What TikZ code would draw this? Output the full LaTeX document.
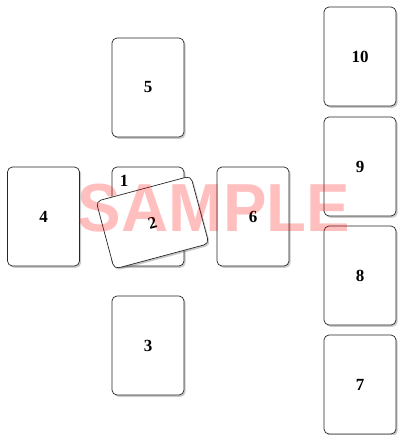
\documentclass[tikz,border=0pt]{standalone}
\usepackage{fontspec}
\setmainfont{Liberation Serif}
\newfontfamily\wmfont{Liberation Sans}
\usetikzlibrary{shadows}
\tikzset{
  card/.style={draw=black!85, line width=0.7pt, rounded corners=5pt, fill=white,
    minimum width=72pt, minimum height=99pt, inner sep=0pt,
    font=\fontsize{17}{20}\selectfont\bfseries,
    drop shadow={shadow xshift=1.6pt, shadow yshift=-1.8pt, opacity=0.35, fill=black!60}},
  lcard/.style={card, minimum width=98pt, minimum height=70pt},
  numlbl/.style={font=\fontsize{17}{20}\selectfont\bfseries, inner sep=0pt},
  watermark/.style={font=\wmfont\fontsize{68}{70}\selectfont\bfseries, text=red, text opacity=0.25, xscale=0.96, inner sep=0pt}
}
\begin{document}
\begin{tikzpicture}[x=1pt,y=-1pt]
\useasboundingbox (0,0) rectangle (397,435);
\node[card] (c5) at (148,87.5) {5};
\node[card] (c4) at (43.5,216.5) {4};
\node[card] (c1) at (148,216.5) {};
\node[numlbl] (l1) at (124,181) {1};
\node[lcard, rotate=15] (c2) at (152.5,222.5) {2};
\node[card] (c6) at (253,216.5) {6};
\node[card] (c3) at (148,345.5) {3};
\node[card] (c10) at (360,56.5) {10};
\node[card] (c9) at (360,166.5) {9};
\node[card] (c8) at (360,275.5) {8};
\node[card] (c7) at (360,384.5) {7};
\node[watermark] (wm) at (214,208) {SAMPLE};
\end{tikzpicture}
\end{document}
